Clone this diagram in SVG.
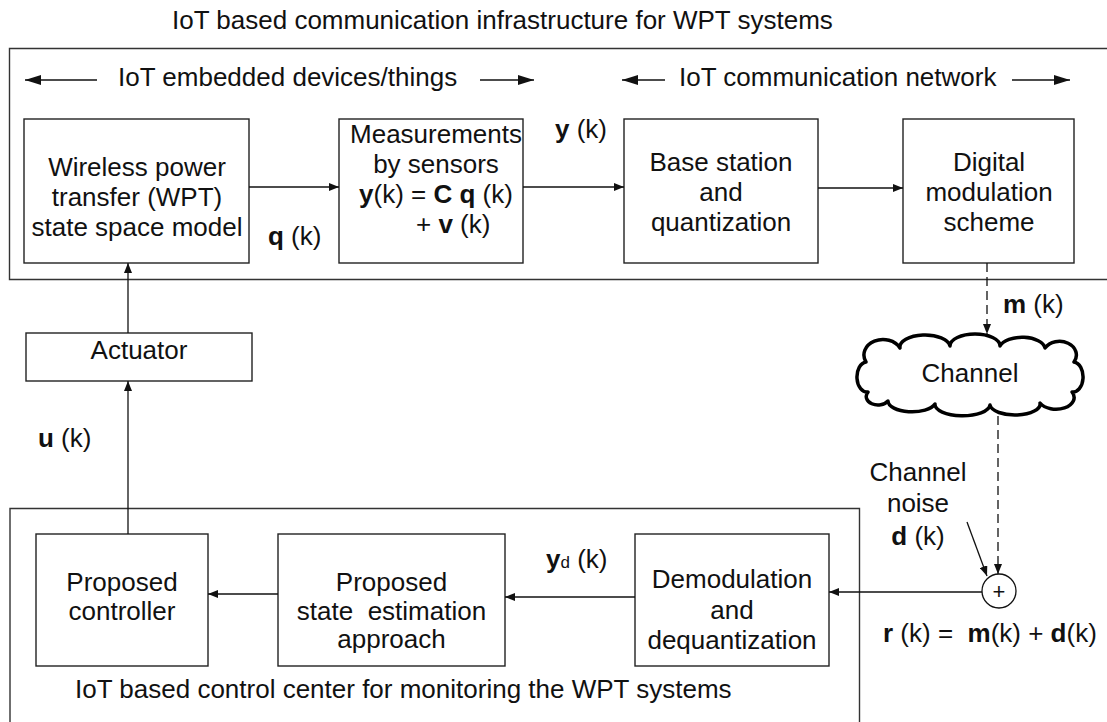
<svg xmlns="http://www.w3.org/2000/svg" width="1107" height="722" viewBox="0 0 1107 722">
<style>
text{font-family:"Liberation Sans",Arial,Helvetica,sans-serif;font-size:26px;fill:#111}
.m{text-anchor:middle}
.b{font-weight:bold}
.box{fill:#fff;stroke:#222;stroke-width:1.4}
.frame{fill:none;stroke:#333;stroke-width:1.4}
.ln{fill:none;stroke:#111;stroke-width:1.3}
.dash{fill:none;stroke:#111;stroke-width:1.3;stroke-dasharray:9 5}
</style>
<defs>
<marker id="ah" viewBox="0 0 10 8" refX="10" refY="4" markerWidth="10" markerHeight="8" markerUnits="userSpaceOnUse" orient="auto"><path d="M0,0 L10,4 L0,8 z" fill="#111"/></marker>
<marker id="big" viewBox="0 0 16 10" refX="16" refY="5" markerWidth="16" markerHeight="10" markerUnits="userSpaceOnUse" orient="auto"><path d="M0,0 L16,5 L0,10 z" fill="#111"/></marker>
</defs>

<text x="172" y="29">IoT based communication infrastructure for WPT systems</text>

<g id="frame-top">
<path class="frame" d="M1110,48.5 H9.5 V279.5 H1110"/>
<text x="118" y="86">IoT embedded devices/things</text>
<text x="679" y="86">IoT communication network</text>
</g>

<g id="frame-bottom">
<path class="frame" d="M10,725 V508.5 H859.5 V725"/>
<text x="75" y="698">IoT based control center for monitoring the WPT systems</text>
</g>

<g id="wpt">
<rect class="box" x="24" y="119" width="225" height="144"/>
<text class="m" x="137" y="176">Wireless power</text>
<text class="m" x="137" y="206">transfer (WPT)</text>
<text class="m" x="137" y="236">state space model</text>
</g>

<g id="measurements">
<rect class="box" x="339" y="119" width="184" height="144"/>
<text class="m" x="436" y="143">Measurements</text>
<text class="m" x="436" y="173">by sensors</text>
<text class="m" x="436" y="203"><tspan class="b">y</tspan>(k) = <tspan class="b">C</tspan> <tspan class="b">q</tspan> (k)</text>
<text x="416" y="233">+ <tspan class="b">v</tspan> (k)</text>
</g>

<g id="base-station">
<rect class="box" x="624" y="119" width="194" height="144"/>
<text class="m" x="721" y="171">Base station</text>
<text class="m" x="721" y="201">and</text>
<text class="m" x="721" y="231">quantization</text>
</g>

<g id="digital-modulation">
<rect class="box" x="903" y="119" width="171" height="144"/>
<text class="m" x="989" y="171">Digital</text>
<text class="m" x="989" y="201">modulation</text>
<text class="m" x="989" y="231">scheme</text>
</g>

<g id="channel">
<path d="M868,392 A10,15 0 0 1 866,362 A16,13 0 0 1 900,348 A25,12 0 0 1 950,346 A25,12 0 0 1 1000,346 A23,12 0 0 1 1045,348 A16,13 0 0 1 1074,362 A10,15 0 0 1 1072,392 A17,11 0 0 1 1040,403 A25,11 0 0 1 990,405 A27,11 0 0 1 935,404 A24,11 0 0 1 888,401 A11,8 0 0 1 868,392 Z" fill="#fff" stroke="#000" stroke-width="3.5" stroke-linejoin="round"/>
<text class="m" x="970" y="382">Channel</text>
</g>

<g id="actuator">
<rect class="box" x="26" y="333" width="226" height="48"/>
<text class="m" x="139" y="359">Actuator</text>
</g>

<g id="controller">
<rect class="box" x="36" y="534" width="172" height="132"/>
<text class="m" x="122" y="591">Proposed</text>
<text class="m" x="122" y="620">controller</text>
</g>

<g id="state-estimation">
<rect class="box" x="278" y="534" width="227" height="132"/>
<text class="m" x="391.5" y="591">Proposed</text>
<text class="m" x="391.5" y="620" xml:space="preserve">state  estimation</text>
<text class="m" x="391.5" y="648">approach</text>
</g>

<g id="demodulation">
<rect class="box" x="635" y="534" width="194" height="132"/>
<text class="m" x="732" y="588">Demodulation</text>
<text class="m" x="732" y="619">and</text>
<text class="m" x="732" y="649">dequantization</text>
</g>

<g id="summer">
<circle cx="999" cy="591" r="17" fill="#fff" stroke="#111" stroke-width="1.3"/>
<text class="m" x="999" y="599" style="font-size:22px">+</text>
</g>

<g id="connectors">
<line class="ln" x1="97" y1="80" x2="25" y2="80" marker-end="url(#big)"/>
<line class="ln" x1="480" y1="80" x2="534" y2="80" marker-end="url(#big)"/>
<line class="ln" x1="665" y1="80" x2="622" y2="80" marker-end="url(#big)"/>
<line class="ln" x1="1012" y1="80" x2="1070" y2="80" marker-end="url(#big)"/>
<line class="ln" x1="249" y1="187" x2="339" y2="187" marker-end="url(#ah)"/>
<line class="ln" x1="523" y1="187" x2="624" y2="187" marker-end="url(#ah)"/>
<line class="ln" x1="818" y1="188" x2="903" y2="188" marker-end="url(#ah)"/>
<line class="dash" x1="987" y1="263" x2="987" y2="334" marker-end="url(#ah)"/>
<line class="dash" x1="998" y1="416" x2="998" y2="574" marker-end="url(#ah)"/>
<line class="ln" x1="967" y1="522" x2="987" y2="576" marker-end="url(#ah)"/>
<line class="ln" x1="982" y1="592" x2="829" y2="592" marker-end="url(#ah)"/>
<line class="ln" x1="635" y1="597" x2="505" y2="597" marker-end="url(#ah)"/>
<line class="ln" x1="278" y1="594" x2="208" y2="594" marker-end="url(#ah)"/>
<line class="ln" x1="128" y1="534" x2="128" y2="381" marker-end="url(#ah)"/>
<line class="ln" x1="128" y1="333" x2="128" y2="263" marker-end="url(#ah)"/>
<text x="268" y="245"><tspan class="b">q</tspan> (k)</text>
<text x="555" y="138"><tspan class="b">y</tspan> (k)</text>
<text x="1003" y="313"><tspan class="b">m</tspan> (k)</text>
<text x="38" y="447"><tspan class="b">u</tspan> (k)</text>
<text x="546" y="568"><tspan class="b">y</tspan><tspan style="font-size:17px">d</tspan> (k)</text>
<text class="m" x="918" y="481">Channel</text>
<text class="m" x="918" y="512">noise</text>
<text class="m" x="918" y="545"><tspan class="b">d</tspan> (k)</text>
<text x="883" y="642" xml:space="preserve"><tspan class="b">r</tspan> (k) =  <tspan class="b">m</tspan>(k) + <tspan class="b">d</tspan>(k)</text>
</g>
</svg>
